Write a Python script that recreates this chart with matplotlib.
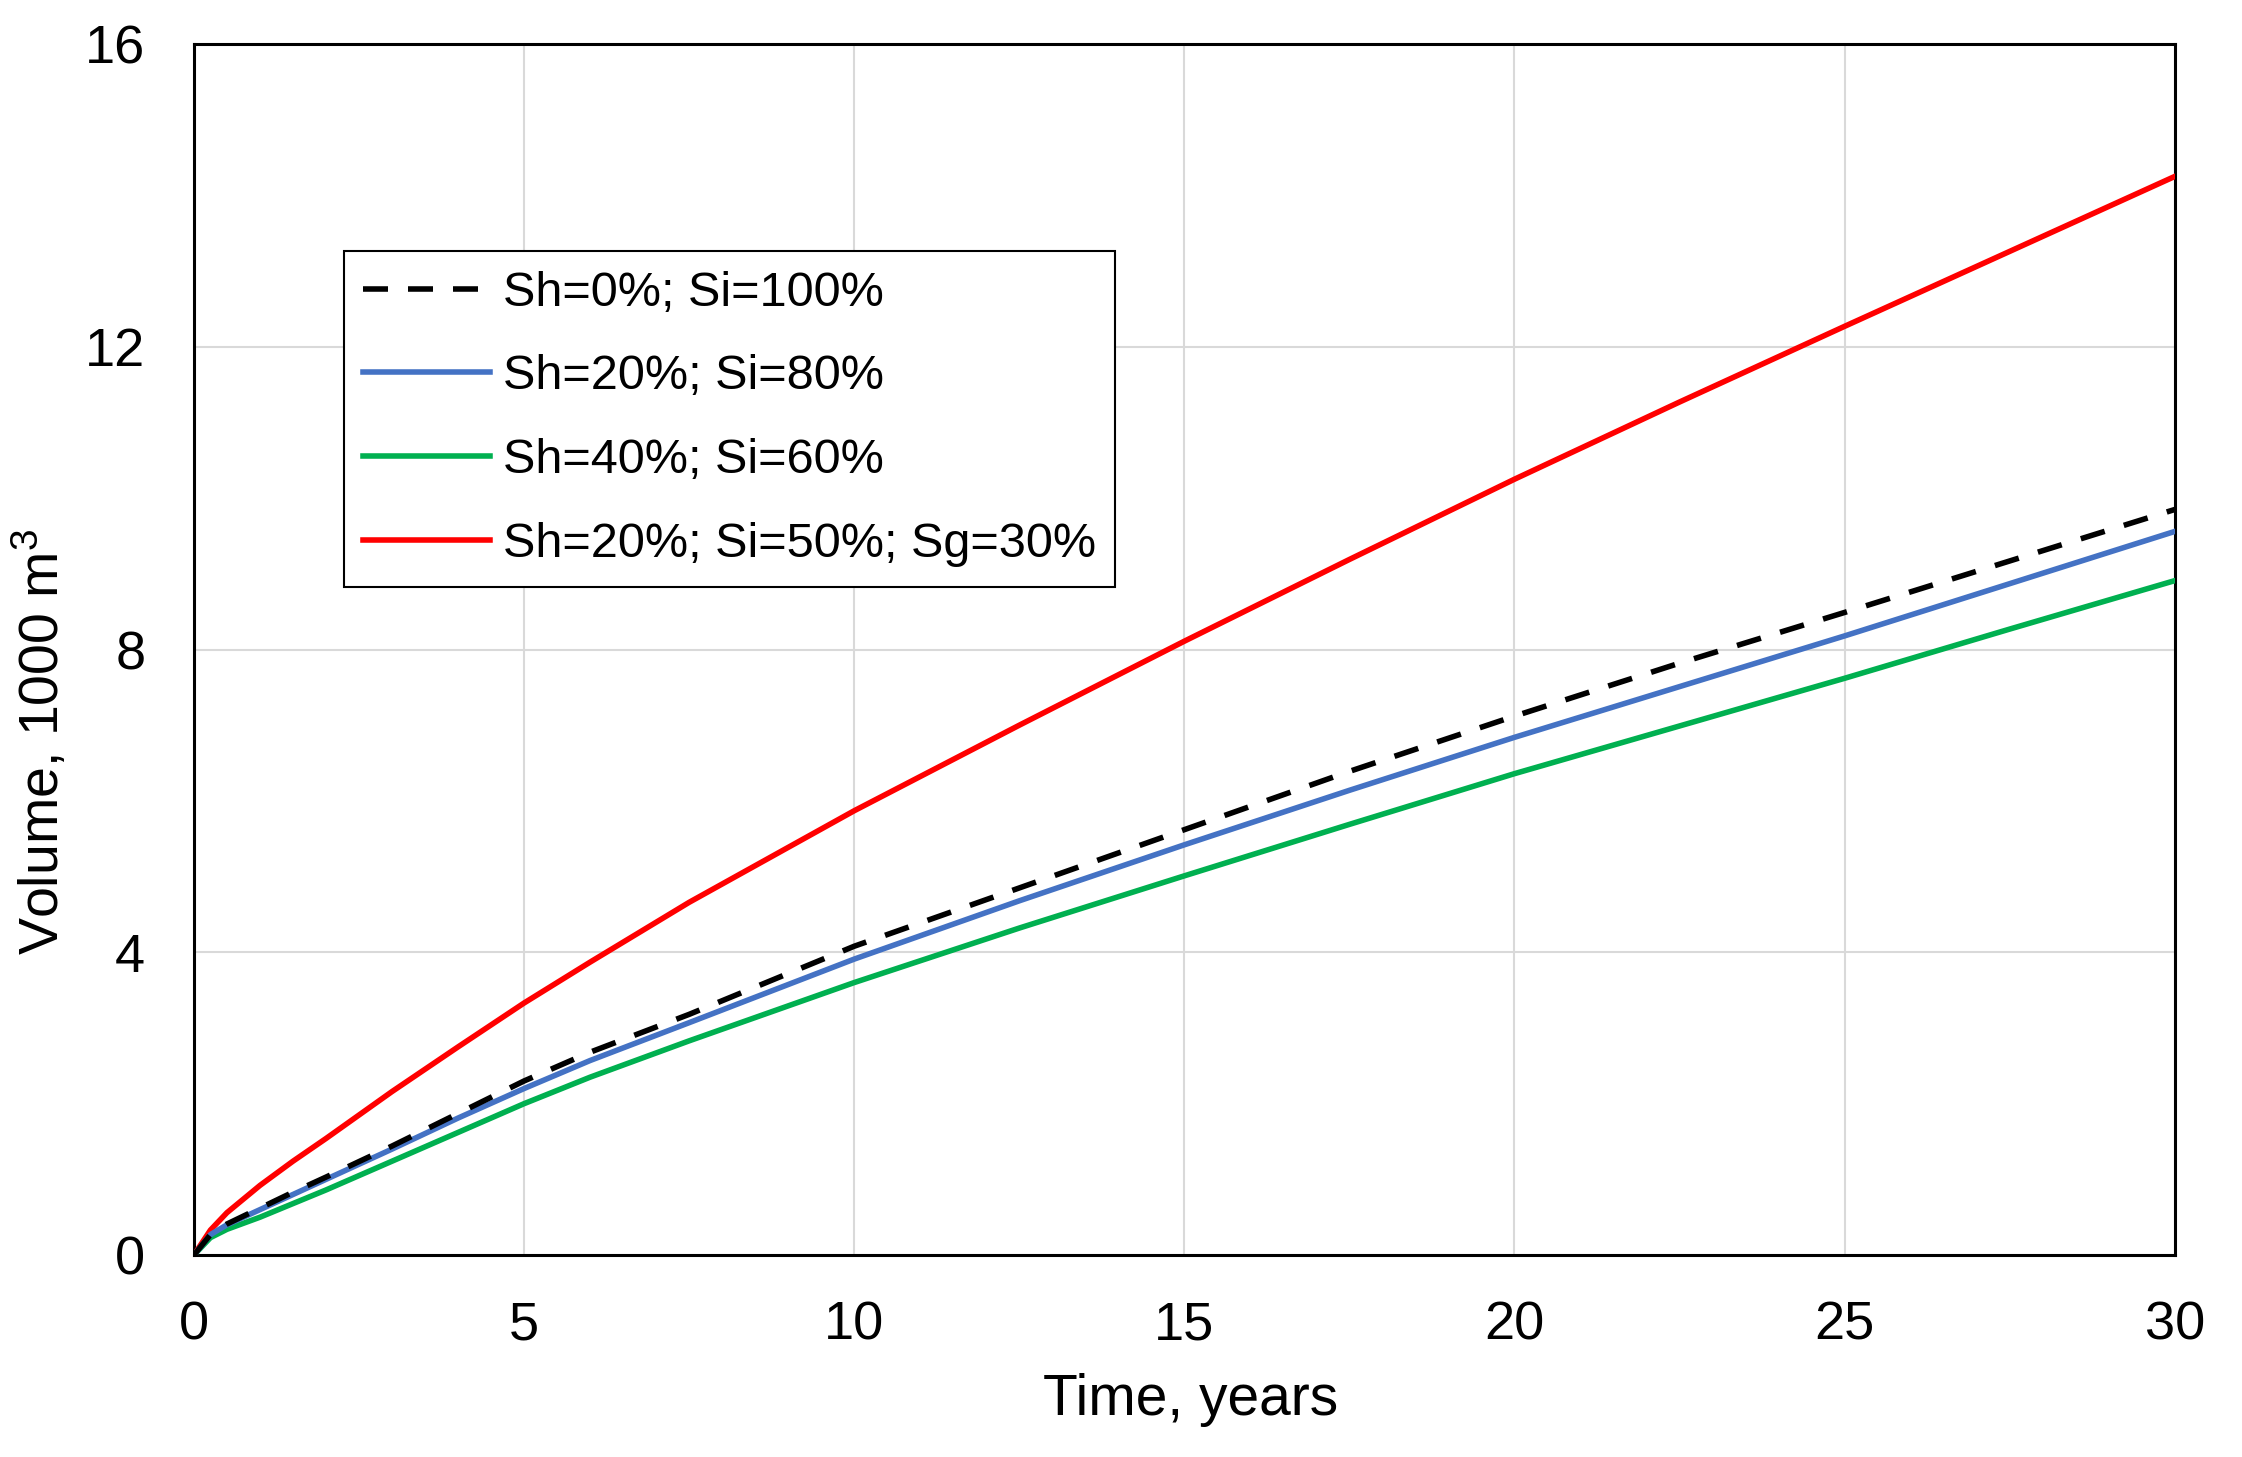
import matplotlib
matplotlib.use("Agg")
import matplotlib.pyplot as plt

plt.rcParams["font.family"] = ["Liberation Sans", "DejaVu Sans"]
plt.rcParams["mathtext.default"] = "regular"

# Time axis (years)
time_years = [0, 0.25, 0.5, 1, 1.5, 2, 3, 4, 5, 6, 7.5, 10, 12.5, 15, 17.5, 20, 22.5, 25, 27.5, 30]

# Volume, 1000 m3
vol_sh0_si100 = [0, 0.27, 0.41, 0.62, 0.83, 1.03, 1.44, 1.87, 2.30, 2.68, 3.18, 4.08, 4.85, 5.62, 6.39, 7.12, 7.82, 8.49, 9.17, 9.85]
vol_sh20_si80 = [0, 0.27, 0.40, 0.60, 0.80, 1.00, 1.40, 1.81, 2.20, 2.57, 3.07, 3.91, 4.68, 5.42, 6.14, 6.84, 7.51, 8.18, 8.87, 9.56]
vol_sh40_si60 = [0, 0.23, 0.34, 0.50, 0.68, 0.86, 1.24, 1.62, 2.00, 2.35, 2.83, 3.60, 4.32, 5.01, 5.69, 6.36, 6.99, 7.62, 8.27, 8.91]
vol_sh20_si50_sg30 = [0, 0.33, 0.56, 0.92, 1.24, 1.54, 2.16, 2.75, 3.33, 3.87, 4.66, 5.87, 7.00, 8.11, 9.19, 10.25, 11.27, 12.27, 13.26, 14.25]

labels = ["Sh=0%; Si=100%", "Sh=20%; Si=80%", "Sh=40%; Si=60%", "Sh=20%; Si=50%; Sg=30%"]

fig = plt.figure(figsize=(22.42, 14.57), dpi=100)
ax = fig.add_axes([0.0865, 0.1386, 0.8835, 0.8312])

lw = 4
ax.plot(time_years, vol_sh0_si100, color="black", lw=lw, dashes=(4.5, 3.6), label=labels[0], zorder=5)
ax.plot(time_years, vol_sh20_si80, color="#4472C4", lw=lw, label=labels[1], zorder=4)
ax.plot(time_years, vol_sh40_si60, color="#00B050", lw=lw, label=labels[2], zorder=3)
ax.plot(time_years, vol_sh20_si50_sg30, color="#FF0000", lw=lw, label=labels[3], zorder=3)

ax.set_xlim(0, 30)
ax.set_ylim(0, 16)
ax.set_xticks([0, 5, 10, 15, 20, 25, 30])
ax.set_yticks([0, 4, 8, 12, 16])
ax.grid(True, color="#d9d9d9", lw=1.5)
ax.set_axisbelow(True)
ax.tick_params(length=0, labelsize=39)
ax.tick_params(axis="x", pad=33)
ax.tick_params(axis="y", pad=35)
for s in ax.spines.values():
    s.set_linewidth(2.2)
    s.set_color("black")

ax.set_xlabel("Time, years", fontsize=41)
ax.set_ylabel("Volume, 1000 m$^3$", fontsize=40)
ax.xaxis.set_label_coords(0.503, -0.097)
ax.yaxis.set_label_coords(-0.062, 0.424)

leg = ax.legend(loc="upper left", bbox_to_anchor=(0.0757, 0.829), borderaxespad=0,
                fontsize=35, handlelength=2.6, handletextpad=0.27, labelspacing=0.8,
                fancybox=False, framealpha=1, edgecolor="black", borderpad=0.4)
leg.get_frame().set_linewidth(1.5)

plt.savefig("out.png", dpi=100)
